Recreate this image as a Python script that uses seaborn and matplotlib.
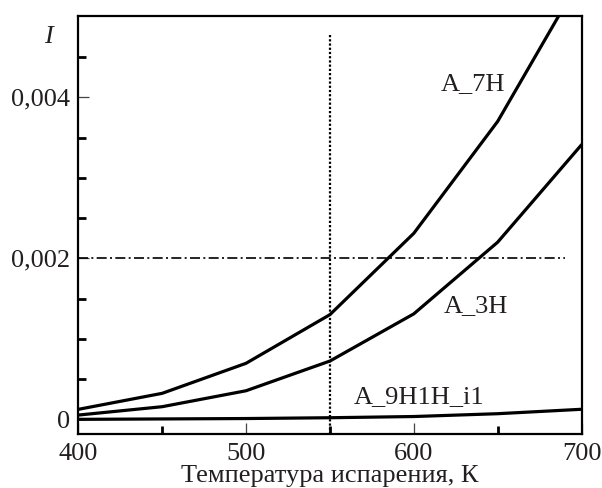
import matplotlib
matplotlib.use("Agg")
import matplotlib.pyplot as plt
import seaborn as sns
import pandas as pd
from matplotlib.ticker import FixedLocator

# ---- data ----
temperature = [400, 450, 500, 550, 600, 650, 700]
a_7h = [0.000124, 0.000323, 0.000696, 0.00130, 0.00231, 0.00370, 0.00550]
a_3h = [0.000053, 0.000157, 0.000355, 0.000724, 0.00131, 0.00220, 0.00341]
a_9h1h_i1 = [0.0, 0.000005, 0.000010, 0.000020, 0.000035, 0.000070, 0.000125]
series_names = ["A_7H", "A_3H", "A_9H1H_i1"]
label_pos = {"A_7H": (635, 0.00417), "A_3H": (637, 0.00141), "A_9H1H_i1": (603, 0.00028)}
ref_temp = 550
ref_level = 0.002
ref_level_end = 690
ref_temp_top = 0.00477
y_ticks = [0, 0.002, 0.004]
y_tick_labels = ["0", "0,002", "0,004"]
y_minor = [0.0005, 0.001, 0.0015, 0.0025, 0.003, 0.0035, 0.0045]
x_ticks = [400, 500, 600, 700]
x_minor = [450, 550, 650]
xlabel = "Температура испарения, К"

df = pd.DataFrame({
    "T": temperature * 3,
    "I": a_7h + a_3h + a_9h1h_i1,
    "series": [s for s in series_names for _ in temperature],
})

sns.set_style("ticks")
plt.rcParams["font.family"] = ["Liberation Serif", "DejaVu Serif"]
plt.rcParams["mathtext.fontset"] = "stix"

fig = plt.figure(figsize=(6.02, 4.88), dpi=100)
ax = fig.add_axes([0.130, 0.110, 0.836, 0.858])

sns.lineplot(data=df, x="T", y="I", units="series", estimator=None,
             color="black", linewidth=2.3, ax=ax, legend=False)

ax.hlines(ref_level, temperature[0], ref_level_end, colors="black",
          linewidth=1.2, linestyles=(0, (6, 2, 1.2, 2)))
ax.vlines(ref_temp, -0.001, ref_temp_top, colors="black",
          linewidth=1.6, linestyles=(0, (1.0, 0.9)))

txtc = "#231f20"
for name, (tx, ty) in label_pos.items():
    ax.text(tx, ty, name, fontsize=19, color=txtc, ha="center", va="center")

ax.set_xlim(400, 700)
ax.set_ylim(-0.000186, 0.005014)
ax.set_xticks(x_ticks)
ax.set_xticklabels([str(v) for v in x_ticks])
ax.xaxis.set_minor_locator(FixedLocator(x_minor))
ax.set_yticks(y_ticks)
ax.set_yticklabels(y_tick_labels)
ax.yaxis.set_minor_locator(FixedLocator(y_minor))

ax.tick_params(axis="both", which="major", direction="in", length=8, width=0.9,
               labelsize=19, labelcolor=txtc, color="#444")
ax.tick_params(axis="x", which="major", pad=6)
ax.tick_params(axis="y", which="major", pad=6)
ax.tick_params(axis="both", which="minor", direction="in", length=6, width=2, color="black")
for side in ["left", "right", "top", "bottom"]:
    ax.spines[side].set_visible(True)
    ax.spines[side].set_linewidth(1.6)
    ax.spines[side].set_color("black")

ax.set_xlabel(xlabel, fontsize=19, color=txtc, labelpad=0)
ax.set_ylabel("")
fig.text(48 / 602, 1 - 37 / 488, "I", fontsize=19, style="italic", color=txtc,
         ha="center", va="center")

fig.savefig("out.png", dpi=100, facecolor="white")
